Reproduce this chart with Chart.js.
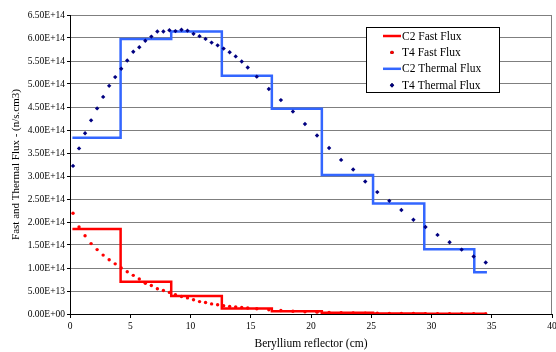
<!DOCTYPE html>
<html>
<head>
<meta charset="utf-8">
<script src="https://cdn.jsdelivr.net/npm/chart.js@4/dist/chart.umd.min.js"></script>
<style>
  html, body { margin: 0; padding: 0; background: #fff; }
  #wrap { width: 556px; height: 352px; }
</style>
</head>
<body>
<div id="wrap"><canvas id="fluxChart" width="556" height="352"></canvas></div>
<script>
// values are in units of 1E14 n/s.cm3
const UNIT = 1e14;

// C2 calculation: step bins (edges in cm) and one value per bin
const c2Edges = [0.2, 4.2, 8.4, 12.6, 16.75, 20.9, 25.15, 29.4, 33.55, 34.6];
const c2Fast = [1.85, 0.70, 0.39, 0.12, 0.06, 0.025, 0.012, 0.006, 0.003];
const c2Thermal = [3.83, 5.98, 6.14, 5.18, 4.46, 3.02, 2.40, 1.41, 0.91];

// T4 calculation: point values at depth (cm)
const t4Depth = [0.25, 0.75, 1.25, 1.75, 2.25, 2.75, 3.25, 3.75, 4.25, 4.75,
    5.25, 5.75, 6.25, 6.75, 7.25, 7.75, 8.25, 8.75, 9.25, 9.75,
    10.25, 10.75, 11.25, 11.75, 12.25, 12.75, 13.25, 13.75, 14.25, 14.75,
    15.5, 16.5, 17.5, 18.5, 19.5, 20.5, 21.5, 22.5, 23.5, 24.5,
    25.5, 26.5, 27.5, 28.5, 29.5, 30.5, 31.5, 32.5, 33.5, 34.5];
const t4Fast = [2.19, 1.89, 1.70, 1.53, 1.40, 1.28, 1.18, 1.09, 1.00, 0.92,
    0.84, 0.76, 0.67, 0.62, 0.55, 0.51, 0.47, 0.42, 0.38, 0.35,
    0.31, 0.27, 0.25, 0.22, 0.20, 0.18, 0.165, 0.155, 0.14, 0.13,
    0.115, 0.09, 0.075, 0.06, 0.048, 0.04, 0.034, 0.028, 0.024, 0.02,
    0.017, 0.014, 0.012, 0.01, 0.008, 0.007, 0.006, 0.005, 0.004, 0.003];
const t4Thermal = [3.22, 3.60, 3.93, 4.21, 4.47, 4.72, 4.96, 5.15, 5.33, 5.51,
    5.70, 5.80, 5.94, 6.03, 6.14, 6.14, 6.17, 6.15, 6.18, 6.16,
    6.09, 6.04, 5.98, 5.90, 5.84, 5.77, 5.69, 5.60, 5.49, 5.36,
    5.16, 4.89, 4.65, 4.40, 4.13, 3.88, 3.61, 3.35, 3.14, 2.88,
    2.65, 2.46, 2.26, 2.05, 1.89, 1.72, 1.56, 1.40, 1.25, 1.12];

// axis ticks
const xTicks = { min: 0, max: 40, step: 5 };
const yTicks = { min: 0, max: 6.5, step: 0.5 };

const FONT = "'Liberation Serif', 'Times New Roman', serif";

function stepPoints(edges, vals) {
    const pts = vals.map((v, i) => ({ x: edges[i], y: v * UNIT }));
    pts.push({ x: edges[edges.length - 1], y: vals[vals.length - 1] * UNIT });
    return pts;
}

function dotPoints(xs, vals) {
    return xs.map((x, i) => ({ x: x, y: vals[i] * UNIT }));
}

// Excel style 0.00E+00
function sci(v) {
    if (v === 0) return '0.00E+00';
    let e = Math.floor(Math.log10(Math.abs(v)) + 1e-9);
    let m = v / Math.pow(10, e);
    return m.toFixed(2) + 'E' + (e < 0 ? '-' : '+') + String(Math.abs(e)).padStart(2, '0');
}

// legend box inside plot + right border of plot area
const boxLegend = {
    id: 'boxLegend',
    afterDraw(chart) {
        const ctx = chart.ctx;
        const a = chart.chartArea;
        ctx.save();
        ctx.strokeStyle = '#7f7f7f';
        ctx.lineWidth = 1;
        ctx.beginPath();
        ctx.moveTo(Math.round(a.right) - 0.5, a.top);
        ctx.lineTo(Math.round(a.right) - 0.5, a.bottom);
        ctx.stroke();

        const bx = 366.5, by = 27.5, bw = 133, bh = 65;
        ctx.fillStyle = '#fff';
        ctx.fillRect(bx, by, bw, bh);
        ctx.strokeStyle = '#000';
        ctx.strokeRect(bx, by, bw, bh);

        ctx.font = '11.5px ' + FONT;
        ctx.textBaseline = 'middle';
        ctx.textAlign = 'left';
        chart.data.datasets.forEach((ds, i) => {
            const y = 36 + i * 16.4;
            if (ds.showLine) {
                ctx.strokeStyle = ds.borderColor;
                ctx.lineWidth = 2.5;
                ctx.beginPath();
                ctx.moveTo(383, y);
                ctx.lineTo(401, y);
                ctx.stroke();
            } else {
                Chart.helpers.drawPoint(ctx, {
                    pointStyle: ds.pointStyle, radius: ds.pointRadius, borderWidth: 0
                }, 392, y);
                ctx.fillStyle = ds.backgroundColor;
                ctx.fill();
            }
            ctx.fillStyle = '#000';
            ctx.fillText(ds.label, 402, y + 0.5);
        });
        ctx.restore();
    }
};

const ctx = document.getElementById('fluxChart').getContext('2d');
const fluxChart = new Chart(ctx, {
    type: 'scatter',
    data: {
        datasets: [{
            label: 'C2 Fast Flux',
            data: stepPoints(c2Edges, c2Fast),
            showLine: true,
            stepped: 'before',
            borderColor: '#ff0000',
            backgroundColor: '#ff0000',
            borderWidth: 2.5,
            pointRadius: 0,
            order: 3
        }, {
            label: 'T4 Fast Flux',
            data: dotPoints(t4Depth, t4Fast),
            showLine: false,
            pointStyle: 'circle',
            pointRadius: 1.7,
            borderWidth: 0,
            backgroundColor: '#ff0000',
            borderColor: '#ff0000',
            order: 1
        }, {
            label: 'C2 Thermal Flux',
            data: stepPoints(c2Edges, c2Thermal),
            showLine: true,
            stepped: 'before',
            borderColor: '#3366ff',
            backgroundColor: '#3366ff',
            borderWidth: 2.5,
            pointRadius: 0,
            order: 4
        }, {
            label: 'T4 Thermal Flux',
            data: dotPoints(t4Depth, t4Thermal),
            showLine: false,
            pointStyle: 'rectRot',
            pointRadius: 2.2,
            borderWidth: 0,
            backgroundColor: '#000080',
            borderColor: '#000080',
            order: 2
        }]
    },
    options: {
        responsive: false,
        animation: false,
        layout: { padding: { top: 15, right: 2, left: 0, bottom: 0 } },
        plugins: {
            legend: { display: false },
            tooltip: { enabled: false }
        },
        scales: {
            x: {
                type: 'linear',
                min: xTicks.min,
                max: xTicks.max,
                ticks: {
                    stepSize: xTicks.step,
                    color: '#000',
                    font: { family: FONT, size: 9.5 },
                    padding: 3,
                    maxRotation: 0
                },
                grid: { drawOnChartArea: false, drawTicks: true, tickLength: 4, tickColor: '#000' },
                border: { color: '#000', width: 1 },
                title: {
                    display: true,
                    text: 'Beryllium reflector (cm)',
                    color: '#000',
                    font: { family: FONT, size: 11.5 },
                    padding: { top: 0, bottom: 1 }
                },
                afterFit(scale) {
                    scale.height = 38;
                    scale.paddingLeft = 0;
                    scale.paddingRight = 0;
                }
            },
            y: {
                min: yTicks.min * UNIT,
                max: yTicks.max * UNIT,
                ticks: {
                    stepSize: yTicks.step * UNIT,
                    color: '#000',
                    font: { family: FONT, size: 9.5 },
                    padding: 2,
                    callback: v => sci(v)
                },
                grid: { color: '#7f7f7f', lineWidth: 1, drawTicks: true, tickLength: 3, tickColor: '#000' },
                border: { color: '#000', width: 1 },
                title: {
                    display: true,
                    text: 'Fast and Thermal Flux - (n/s.cm3)',
                    color: '#000',
                    font: { family: FONT, size: 11 },
                    padding: { top: 10, bottom: 0 }
                },
                afterFit(scale) {
                    scale.width = 70;
                    scale.paddingTop = 0;
                    scale.paddingBottom = 0;
                }
            }
        }
    },
    plugins: [boxLegend]
});
</script>
</body>
</html>
